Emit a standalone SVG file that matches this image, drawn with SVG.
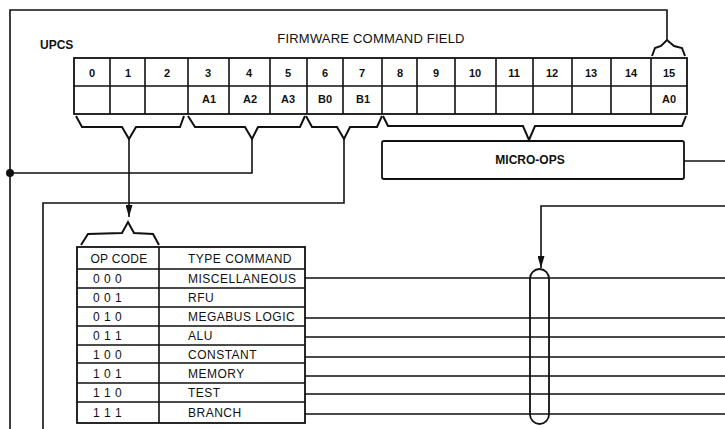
<svg xmlns="http://www.w3.org/2000/svg" width="725" height="429" viewBox="0 0 725 429">
<defs>
<style>
.ln{fill:none;stroke:#111;stroke-width:1.6;stroke-linejoin:miter}
.br{fill:none;stroke:#111;stroke-width:2;stroke-linejoin:miter}
.box{fill:none;stroke:#111;stroke-width:1.8}
.t{font-family:"Liberation Sans",Arial,sans-serif;fill:#111}
.num{font-size:11px;font-weight:bold;text-anchor:middle}
.tab{font-size:12px;letter-spacing:0.5px}
</style>
<marker id="arrd" markerUnits="userSpaceOnUse" markerWidth="13" markerHeight="7" refX="12" refY="3.5" orient="auto" viewBox="0 0 13 7">
<path d="M0,0 L12,3.5 L0,7 Z" fill="#111"/>
</marker>
</defs>
<rect width="725" height="429" fill="#fff"/>

<text class="t" x="40" y="49" font-size="12" font-weight="bold">UPCS</text>
<text class="t" x="371" y="43" font-size="13" letter-spacing="0.2" text-anchor="middle">FIRMWARE COMMAND FIELD</text>

<g id="register">
<rect class="box" x="74" y="58" width="613" height="56"/>
<path class="ln" d="M74,86 H687 M110,58 V114 M145,58 V114 M188,58 V114 M229,58 V114 M270,58 V114 M307,58 V114 M343,58 V114 M382,58 V114 M417,58 V114 M455,58 V114 M496,58 V114 M533,58 V114 M572,58 V114 M611,58 V114 M651,58 V114"/>
<g class="t num">
<text x="92" y="77">0</text>
<text x="128" y="77">1</text>
<text x="167" y="77">2</text>
<text x="208" y="77">3</text>
<text x="249" y="77">4</text>
<text x="288" y="77">5</text>
<text x="325" y="77">6</text>
<text x="362" y="77">7</text>
<text x="400" y="77">8</text>
<text x="436" y="77">9</text>
<text x="475" y="77">10</text>
<text x="514" y="77">11</text>
<text x="552" y="77">12</text>
<text x="591" y="77">13</text>
<text x="631" y="77">14</text>
<text x="669" y="77">15</text>
<text x="209" y="103">A1</text>
<text x="250" y="103">A2</text>
<text x="288" y="103">A3</text>
<text x="325" y="103">B0</text>
<text x="363" y="103">B1</text>
<text x="669" y="103">A0</text>
</g>
</g>

<g id="braces">
<path class="br" d="M652,56 L655,48 L661,46 L667,40 L674,46 L682,48 L685,56"/>
<path class="br" d="M76,116 L82,127 L122,127 L129,139 L136,127 L180,127 L184,116"/>
<path class="br" d="M188,116 L195,127 L245,127 L252,139 L258,127 L300,127 L305,116"/>
<path class="br" d="M306,116 L312,127 L337,127 L344,139 L350,127 L377,127 L382,116"/>
<path class="br" d="M383,116 L388,126 L523,126 L529,140 L535,126 L682,126 L686,116"/>
<path class="br" d="M81,245 L88,234 L122,233 L128,222 L134,233 L153,234 L159,245"/>
</g>

<g id="micro-ops">
<rect class="box" x="382" y="141" width="302" height="38" rx="2"/>
<text class="t" x="530" y="164" font-size="12" font-weight="bold" text-anchor="middle">MICRO-OPS</text>
</g>

<g id="opcode-table">
<rect class="box" x="77" y="247" width="228" height="176"/>
<path class="ln" d="M159,247 V423 M77,269 H305 M77,288 H305 M77,307 H305 M77,326 H305 M77,345 H305 M77,363 H305 M77,383 H305 M77,402 H305"/>
<g class="t tab">
<text x="119" y="263" text-anchor="middle" letter-spacing="0.3">OP CODE</text>
<text x="188" y="263">TYPE COMMAND</text>
<text x="93" y="283">0 0 0</text>
<text x="188" y="283">MISCELLANEOUS</text>
<text x="93" y="302">0 0 1</text>
<text x="188" y="302">RFU</text>
<text x="93" y="321">0 1 0</text>
<text x="188" y="321">MEGABUS LOGIC</text>
<text x="93" y="340">0 1 1</text>
<text x="188" y="340">ALU</text>
<text x="93" y="359">1 0 0</text>
<text x="188" y="359">CONSTANT</text>
<text x="93" y="378">1 0 1</text>
<text x="188" y="378">MEMORY</text>
<text x="93" y="397">1 1 0</text>
<text x="188" y="397">TEST</text>
<text x="93" y="417">1 1 1</text>
<text x="188" y="417">BRANCH</text>
</g>
</g>

<g id="capsule">
<rect class="box" x="530" y="269" width="19" height="155" rx="9.5"/>
</g>

<g id="connectors">
<path class="ln" d="M667,40 V10 H10 V429"/>
<circle cx="10" cy="173" r="4" fill="#111"/>
<path class="ln" d="M10,173 H252 V139"/>
<path class="ln" d="M129,139 V217" marker-end="url(#arrd)"/>
<path class="ln" d="M344,139 V203 H43 V429"/>
<path class="ln" d="M684,161 H725"/>
<path class="ln" d="M725,206 H541 V268" marker-end="url(#arrd)"/>
<path class="ln" d="M305,278 H725 M305,318 H725 M305,337 H725 M305,357 H725 M305,376 H725 M305,394 H725 M305,414 H725"/>
</g>
</svg>
